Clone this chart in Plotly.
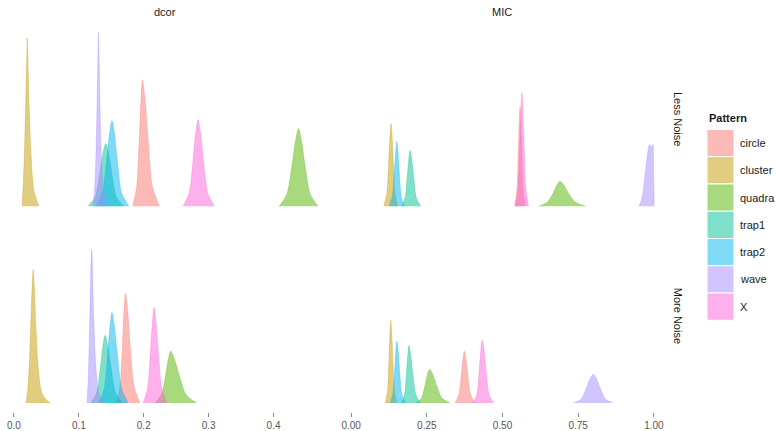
import plotly.graph_objects as go

# Pattern levels and their fill colours (ggplot hue palette)
patterns = ["circle", "cluster", "quadra", "trap1", "trap2", "wave", "X"]
colors = ["#F8766D", "#C49A00", "#53B400", "#00C094", "#00B6EB", "#A58AFF", "#FB61D7"]
fill_alpha = 0.5

measures = ["dcor", "MIC"]
noise_levels = ["Less Noise", "More Noise"]

dcor_ticks = [0.0, 0.1, 0.2, 0.3, 0.4]
dcor_ticktext = ["0.0", "0.1", "0.2", "0.3", "0.4"]
mic_ticks = [0.0, 0.25, 0.5, 0.75, 1.0]
mic_ticktext = ["0.00", "0.25", "0.50", "0.75", "1.00"]

# Estimated density curves (value, density) for each panel and pattern
dcor_less_x = {
    "circle": [0.1830, 0.1890, 0.1928, 0.1958, 0.1980, 0.2019, 0.2071, 0.2136, 0.2240],
    "cluster": [0.0125, 0.0145, 0.0165, 0.0185, 0.0198, 0.0205, 0.0214, 0.0235, 0.0265, 0.0310, 0.0385],
    "quadra": [0.4085, 0.4205, 0.4280, 0.4340, 0.4385, 0.4430, 0.4490, 0.4565, 0.4685],
    "trap1": [0.1140, 0.1250, 0.1319, 0.1374, 0.1415, 0.1456, 0.1511, 0.1580, 0.1690],
    "trap2": [0.1260, 0.1360, 0.1423, 0.1473, 0.1510, 0.1548, 0.1598, 0.1660, 0.1770],
    "wave": [0.1220, 0.1245, 0.1265, 0.1283, 0.1296, 0.1303, 0.1312, 0.1328, 0.1350, 0.1385, 0.1430],
    "X": [0.2606, 0.2698, 0.2756, 0.2802, 0.2836, 0.2874, 0.2924, 0.2986, 0.3086],
}
dcor_less_y = {
    "circle": [0, 19, 64, 108, 127, 108, 64, 19, 0],
    "cluster": [0, 25, 62, 115, 150, 169, 150, 100, 50, 15, 0],
    "quadra": [0, 12, 39, 66, 78, 66, 39, 12, 0],
    "trap1": [0, 9, 32, 54, 63, 54, 32, 9, 0],
    "trap2": [0, 13, 43, 73, 86, 73, 43, 13, 0],
    "wave": [0, 20, 55, 110, 155, 175, 150, 95, 45, 15, 0],
    "X": [0, 13, 44, 74, 87, 74, 44, 13, 0],
}

mic_less_x = {
    "circle": [0.5400, 0.5472, 0.5517, 0.5553, 0.5580, 0.5606, 0.5640, 0.5682, 0.5750],
    "cluster": [0.1080, 0.1176, 0.1236, 0.1284, 0.1320, 0.1353, 0.1397, 0.1452, 0.1540],
    "quadra": [0.620, 0.648, 0.6655, 0.6795, 0.690, 0.7028, 0.7198, 0.741, 0.775],
    "trap1": [0.1667, 0.1779, 0.1849, 0.1905, 0.1947, 0.1999, 0.2070, 0.2157, 0.2297],
    "trap2": [0.1260, 0.1360, 0.1423, 0.1473, 0.1510, 0.1546, 0.1594, 0.1654, 0.1750],
    "wave": [0.950, 0.958, 0.966, 0.972, 0.978, 0.984, 0.987, 0.990, 0.993, 0.997, 0.999, 1.001],
    "X": [0.5430, 0.5514, 0.5567, 0.5609, 0.5640, 0.5673, 0.5717, 0.5772, 0.5860],
}
mic_less_y = {
    "circle": [0, 15, 50, 85, 100, 85, 50, 15, 0],
    "cluster": [0, 12, 42, 71, 83, 71, 42, 12, 0],
    "quadra": [0, 4, 12, 21, 25, 21, 12, 4, 0],
    "trap1": [0, 8, 28, 48, 56, 48, 28, 8, 0],
    "trap2": [0, 10, 33, 55, 65, 55, 33, 10, 0],
    "wave": [0, 5, 18, 35, 50, 61, 62, 58, 60, 62, 40, 0],
    "X": [0, 17, 57, 97, 114, 97, 57, 17, 0],
}

dcor_more_x = {
    "circle": [0.1578, 0.1634, 0.1669, 0.1697, 0.1718, 0.1751, 0.1795, 0.1850, 0.1940],
    "cluster": [0.0185, 0.0215, 0.0240, 0.0265, 0.0285, 0.0297, 0.0312, 0.0340, 0.0375, 0.0430, 0.0500, 0.0560],
    "quadra": [0.2175, 0.2271, 0.2331, 0.2379, 0.2415, 0.2475, 0.2555, 0.2655, 0.2815],
    "trap1": [0.1185, 0.1273, 0.1328, 0.1372, 0.1405, 0.1446, 0.1500, 0.1567, 0.1675],
    "trap2": [0.1310, 0.1390, 0.1440, 0.1480, 0.1510, 0.1548, 0.1598, 0.1660, 0.1760],
    "wave": [0.1125, 0.1145, 0.1162, 0.1180, 0.1193, 0.1200, 0.1210, 0.1230, 0.1260, 0.1300, 0.1370],
    "X": [0.1989, 0.2057, 0.2100, 0.2134, 0.2159, 0.2189, 0.2229, 0.2279, 0.2359],
}
dcor_more_y = {
    "circle": [0, 17, 55, 94, 110, 94, 55, 17, 0],
    "cluster": [0, 15, 45, 90, 125, 134, 120, 75, 35, 10, 3, 0],
    "quadra": [0, 8, 26, 44, 52, 44, 26, 8, 0],
    "trap1": [0, 10, 34, 58, 68, 58, 34, 10, 0],
    "trap2": [0, 14, 46, 77, 91, 77, 46, 14, 0],
    "wave": [0, 25, 65, 120, 150, 154, 135, 85, 40, 12, 0],
    "X": [0, 14, 48, 82, 96, 82, 48, 14, 0],
}

mic_more_x = {
    "circle": [0.3430, 0.3554, 0.3632, 0.3694, 0.3740, 0.3793, 0.3863, 0.3950, 0.4090],
    "cluster": [0.1130, 0.1202, 0.1247, 0.1283, 0.1310, 0.1340, 0.1380, 0.1430, 0.1510],
    "quadra": [0.2150, 0.2326, 0.2436, 0.2524, 0.2590, 0.2692, 0.2828, 0.2998, 0.3270],
    "trap1": [0.1670, 0.1766, 0.1826, 0.1874, 0.1910, 0.1966, 0.2040, 0.2132, 0.2280],
    "trap2": [0.1290, 0.1378, 0.1433, 0.1477, 0.1510, 0.1550, 0.1605, 0.1672, 0.1780],
    "wave": [0.734, 0.7604, 0.7769, 0.7901, 0.800, 0.8099, 0.8231, 0.8396, 0.866],
    "X": [0.4040, 0.4156, 0.4229, 0.4287, 0.4330, 0.4386, 0.4460, 0.4552, 0.4700],
}
mic_more_y = {
    "circle": [0, 8, 26, 44, 52, 44, 26, 8, 0],
    "cluster": [0, 12, 42, 71, 83, 71, 42, 12, 0],
    "quadra": [0, 5, 17, 29, 34, 29, 17, 5, 0],
    "trap1": [0, 9, 29, 49, 58, 49, 29, 9, 0],
    "trap2": [0, 9, 31, 53, 62, 53, 31, 9, 0],
    "wave": [0, 4, 15, 25, 29, 25, 15, 4, 0],
    "X": [0, 9, 32, 54, 63, 54, 32, 9, 0],
}


def rgba(hex_color, a):
    h = hex_color.lstrip("#")
    r, g, b = int(h[0:2], 16), int(h[2:4], 16), int(h[4:6], 16)
    return f"rgba({r},{g},{b},{a})"


W, H = 777, 431
fig = go.Figure()

# (x data, y data, xaxis id, yaxis id)
panels = [
    (dcor_less_x, dcor_less_y, "x3", "y3"),
    (mic_less_x, mic_less_y, "x4", "y4"),
    (dcor_more_x, dcor_more_y, "x", "y"),
    (mic_more_x, mic_more_y, "x2", "y2"),
]

for xs, ys, xa, ya in panels:
    for name, col in zip(patterns, colors):
        fig.add_trace(go.Scatter(
            x=xs[name], y=ys[name], xaxis=xa, yaxis=ya,
            mode="lines", line=dict(color=rgba(col, fill_alpha), width=0.6,
                                    shape="spline", smoothing=0.8),
            fill="tozeroy", fillcolor=rgba(col, fill_alpha),
            name=name, showlegend=False, hoverinfo="x+name",
        ))

# Panel geometry in pixels
left_dom = [0 / W, 330 / W]
right_dom = [336 / W, 669 / W]
bottom_dom = [(H - 413.5) / H, (H - 221) / H]
top_dom = [(H - 215.75) / H, (H - 23.25) / H]
dcor_range = [-0.0215, 0.487]
mic_range = [-0.05, 1.05]
y_range = [-8.6, 183.9]

tickfont = dict(family="Liberation Sans, Arial, sans-serif", size=10, color="#555555")
common_x = dict(showgrid=False, zeroline=False, showline=False)
common_y = dict(showgrid=False, zeroline=False, showline=False, showticklabels=False,
                ticks="", range=y_range)

fig.update_layout(
    width=W, height=H,
    margin=dict(l=0, r=0, t=0, b=0),
    paper_bgcolor="white", plot_bgcolor="white",
    xaxis=dict(domain=left_dom, range=dcor_range, anchor="y",
               tickvals=dcor_ticks, ticktext=dcor_ticktext,
               ticks="outside", ticklen=4, tickwidth=1, tickcolor="#888888",
               tickfont=tickfont, **common_x),
    xaxis2=dict(domain=right_dom, range=mic_range, anchor="y2",
                tickvals=mic_ticks, ticktext=mic_ticktext,
                ticks="outside", ticklen=4, tickwidth=1, tickcolor="#888888",
                tickfont=tickfont, **common_x),
    xaxis3=dict(domain=left_dom, range=dcor_range, anchor="y3",
                showticklabels=False, ticks="", **common_x),
    xaxis4=dict(domain=right_dom, range=mic_range, anchor="y4",
                showticklabels=False, ticks="", **common_x),
    yaxis=dict(domain=bottom_dom, anchor="x", **common_y),
    yaxis2=dict(domain=bottom_dom, anchor="x2", **common_y),
    yaxis3=dict(domain=top_dom, anchor="x3", **common_y),
    yaxis4=dict(domain=top_dom, anchor="x4", **common_y),
    showlegend=False,
)

strip_font = dict(family="Liberation Sans, Arial, sans-serif", size=11, color="#1a1a1a")

# Column strip labels
for label, dom in zip(measures, [left_dom, right_dom]):
    fig.add_annotation(x=(dom[0] + dom[1]) / 2, y=(H - 12) / H, xref="paper", yref="paper",
                       text=label, showarrow=False, font=strip_font,
                       xanchor="center", yanchor="middle")

# Row strip labels
for label, dom in zip(noise_levels, [top_dom, bottom_dom]):
    fig.add_annotation(x=678 / W, y=(dom[0] + dom[1]) / 2, xref="paper", yref="paper",
                       text=label, showarrow=False, font=strip_font, textangle=90,
                       xanchor="center", yanchor="middle")

# Legend drawn as filled keys
leg_x0, leg_x1 = 707, 734
key_top, key_h = 130, 27.4
fig.add_annotation(x=leg_x0 / W, y=(H - 119) / H, xref="paper", yref="paper",
                   text="<b>Pattern</b>", showarrow=False,
                   font=dict(family="Liberation Sans, Arial, sans-serif", size=11, color="#1a1a1a"),
                   xanchor="left", yanchor="middle")
for i, (name, col) in enumerate(zip(patterns, colors)):
    y0 = key_top + i * key_h
    y1 = y0 + key_h
    fig.add_shape(type="rect", xref="paper", yref="paper",
                  x0=leg_x0 / W, x1=leg_x1 / W, y0=(H - y1) / H, y1=(H - y0) / H,
                  fillcolor=rgba(col, fill_alpha), line=dict(color="white", width=1))
    fig.add_annotation(x=738 / W, y=(H - (y0 + y1) / 2) / H, xref="paper", yref="paper",
                       text=name, showarrow=False,
                       font=dict(family="Liberation Sans, Arial, sans-serif", size=11, color="#1a1a1a"),
                       xanchor="left", yanchor="middle")

fig.write_html("out.html")
